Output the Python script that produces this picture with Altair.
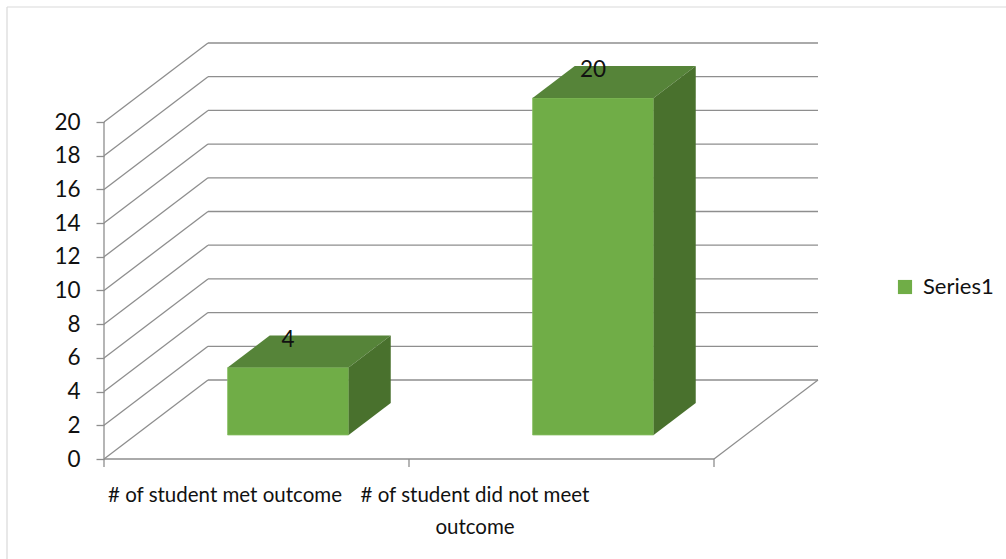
import altair as alt
import pandas as pd

# Chart data
categories = ["# of student met outcome", "# of student did not meet\noutcome"]
values = [4, 20]
series_name = "Series1"
y_ticks = list(range(0, 21, 2))

# Oblique 3-D projection, expressed in scale units
PX_PER_CAT = 305.0          # pixels per category slot
PX_PER_UNIT = 16.85         # pixels per value unit
PLOT_W, PLOT_H = 900, 539
PAD_L, PAD_T = 104, 10
Y_MIN = -90 / PX_PER_UNIT
Y_MAX = Y_MIN + PLOT_H / PX_PER_UNIT
DEPTH_X = 104 / PX_PER_CAT   # full depth shift along x (category units)
DEPTH_Y = 79 / PX_PER_UNIT   # full depth shift along y (value units)
D0, D1 = 0.304, 0.709        # front / back of the bars as a fraction of depth
HALF_W = 60.5 / PX_PER_CAT
N = len(categories)
LABEL_X = [(225 - PAD_L) / PX_PER_CAT, (475 - PAD_L) / PX_PER_CAT]

GRID = "#8e8e8e"
FRONT, TOP, SIDE = "#70AD47", "#568439", "#49712D"
FONT = "Lato"
INK = "#111111"

x_scale = alt.Scale(domain=[0, PLOT_W / PX_PER_CAT], nice=False, zero=False)
y_scale = alt.Scale(domain=[Y_MIN, Y_MAX], nice=False, zero=False)
y_axis = alt.Axis(values=y_ticks, domain=False, grid=False, ticks=True,
                  tickColor=GRID, tickSize=8, tickWidth=1.3,
                  labelFont=FONT, labelFontSize=22.5, labelColor=INK,
                  labelPadding=16, title=None)

# walls, floor and axis lines
segs = []
for v in y_ticks:
    segs.append(dict(x=0, y=v, x2=DEPTH_X, y2=v + DEPTH_Y))
    segs.append(dict(x=DEPTH_X, y=v + DEPTH_Y, x2=N + DEPTH_X, y2=v + DEPTH_Y))
segs.append(dict(x=0, y=0, x2=N, y2=0))
segs.append(dict(x=N, y=0, x2=N + DEPTH_X, y2=DEPTH_Y))
segs.append(dict(x=0, y=0, x2=0, y2=max(y_ticks)))
for k in range(N + 1):
    segs.append(dict(x=k, y=0, x2=k, y2=-8 / PX_PER_UNIT))
seg_df = pd.DataFrame(segs)

grid = alt.Chart(seg_df).mark_rule(color=GRID, strokeWidth=1.3).encode(
    x=alt.X("x:Q", scale=x_scale, axis=None),
    y=alt.Y("y:Q", scale=y_scale, axis=y_axis),
    x2="x2:Q",
    y2="y2:Q",
)

# bar faces
front_rows, top_rows, side_rows, label_rows = [], [], [], []
for i, (cat, v) in enumerate(zip(categories, values)):
    cx = i + 0.5 + D0 * DEPTH_X
    base0 = D0 * DEPTH_Y
    base1 = D1 * DEPTH_Y
    ddx = (D1 - D0) * DEPTH_X
    front_rows.append(dict(bar=i, series=series_name, x=cx - HALF_W, x2=cx + HALF_W,
                           y=base0, y2=base0 + v))
    top_rows += [dict(bar=i, y=base0 + v, x=cx - HALF_W, x2=cx + HALF_W),
                 dict(bar=i, y=base1 + v, x=cx - HALF_W + ddx, x2=cx + HALF_W + ddx)]
    side_rows += [dict(bar=i, x=cx + HALF_W, y=base0, y2=base0 + v),
                  dict(bar=i, x=cx + HALF_W + ddx, y=base1, y2=base1 + v)]
    label_rows.append(dict(x=cx, y=base0 + v, value=v))

front = alt.Chart(pd.DataFrame(front_rows)).mark_rect(
    stroke="#86BE62", strokeWidth=0.8
).encode(
    x=alt.X("x:Q", scale=x_scale, axis=None),
    x2="x2:Q",
    y=alt.Y("y:Q", scale=y_scale, axis=y_axis),
    y2="y2:Q",
    color=alt.Color("series:N",
                    scale=alt.Scale(domain=[series_name], range=[FRONT]),
                    legend=alt.Legend(orient="none", legendX=790, legendY=266,
                                      title=None, symbolType="square",
                                      symbolSize=200, symbolStrokeWidth=0,
                                      symbolOpacity=1, labelFont=FONT,
                                      labelFontSize=22, labelColor=INK,
                                      labelOffset=7, padding=0)),
)

top = alt.Chart(pd.DataFrame(top_rows)).mark_area(
    orient="horizontal", color=TOP, opacity=1
).encode(
    y=alt.Y("y:Q", scale=y_scale, axis=y_axis),
    x=alt.X("x:Q", scale=x_scale, axis=None, stack=None),
    x2="x2:Q",
    detail="bar:N",
)

side = alt.Chart(pd.DataFrame(side_rows)).mark_area(
    orient="vertical", color=SIDE, opacity=1
).encode(
    x=alt.X("x:Q", scale=x_scale, axis=None),
    y=alt.Y("y:Q", scale=y_scale, axis=y_axis, stack=None),
    y2="y2:Q",
    detail="bar:N",
)

value_labels = alt.Chart(pd.DataFrame(label_rows)).mark_text(
    font=FONT, fontSize=22.5, color=INK, baseline="middle", dy=-28
).encode(
    x=alt.X("x:Q", scale=x_scale, axis=None),
    y=alt.Y("y:Q", scale=y_scale, axis=y_axis),
    text="value:Q",
)

cat_df = pd.DataFrame({"x": LABEL_X, "y": [0] * N, "label": categories})
cat_labels = alt.Chart(cat_df).mark_text(
    font=FONT, fontSize=20.5, color=INK, baseline="alphabetic",
    align="center", dy=43, lineBreak="\n", lineHeight=32
).encode(
    x=alt.X("x:Q", scale=x_scale, axis=None),
    y=alt.Y("y:Q", scale=y_scale, axis=y_axis),
    text="label:N",
)

# outer chart frame (left and top edges)
frame_left = alt.Chart(pd.DataFrame({"k": [0]})).mark_rule(
    color="#d9d9d9", strokeWidth=1.2
).encode(x=alt.value(-97), y=alt.value(-3), y2=alt.value(PLOT_H + 20))
frame_top = alt.Chart(pd.DataFrame({"k": [0]})).mark_rule(
    color="#d9d9d9", strokeWidth=1.2
).encode(x=alt.value(-97), x2=alt.value(PLOT_W + 20), y=alt.value(-3))

chart = alt.layer(
    frame_left, frame_top, grid, front, top, side, value_labels, cat_labels
).properties(
    width=PLOT_W, height=PLOT_H,
    background="white",
    autosize=alt.AutoSizeParams(type="none"),
    padding={"left": PAD_L, "top": PAD_T, "right": 1006 - PAD_L - PLOT_W,
             "bottom": 559 - PAD_T - PLOT_H},
).configure_view(stroke="transparent", strokeWidth=0)

chart.save("out.html", embed_options={"renderer": "svg", "actions": False})
